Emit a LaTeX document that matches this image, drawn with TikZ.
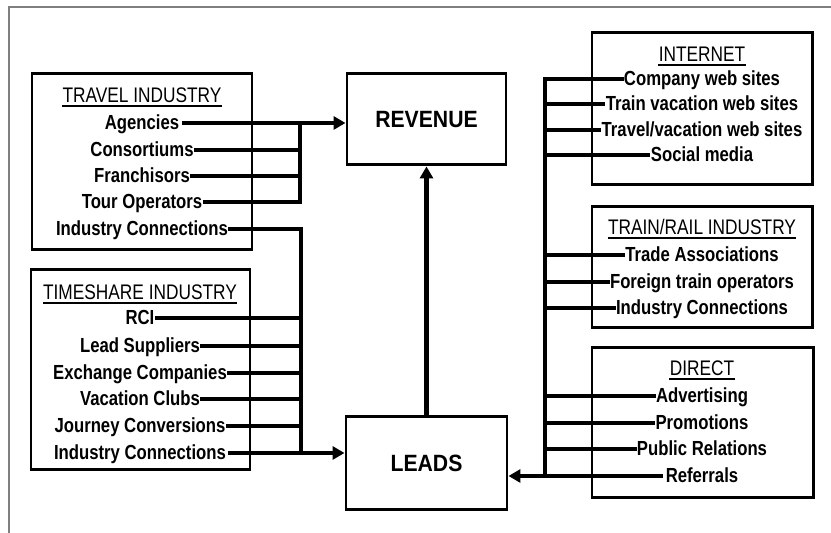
\documentclass[tikz,border=0pt]{standalone}
\usepackage{fontspec}
\setmainfont{Liberation Sans}[FakeStretch=0.82]
\newfontfamily\goalfont{Liberation Sans}[FakeStretch=0.90]
\usepackage{xcolor}
\usepackage{tikz}
\usetikzlibrary{arrows.meta}
\definecolor{FrameGray}{HTML}{7F7F7F}

\begin{document}
\begin{tikzpicture}[x=1cm,y=1cm,
  group/.style={draw,line width=1.7pt,inner sep=0pt},
  goal/.style={draw,line width=1.7pt,inner sep=0pt,font=\goalfont\fontsize{13.4}{15}\selectfont\bfseries},
  head/.style={font=\fontsize{12}{14}\selectfont,inner sep=0pt,text height=8.6pt,text depth=0pt},
  headbar/.style={line width=1.1pt},
  item/.style={font=\fontsize{11.6}{13}\selectfont\bfseries,inner sep=1.2pt,text height=8.3pt,text depth=1pt},
  link/.style={line width=2.3pt,line cap=rect},
  feed/.style={line width=2.3pt,-{Triangle[length=6.8pt,width=7.4pt]}}]
\path[use as bounding box] (0,0) rectangle (16.62,10.66);
\draw[FrameGray,line width=0.9pt] (0.18,0) -- (0.18,10.52) -- (16.62,10.52);

% boxes
\node[group,minimum width=4.40cm,minimum height=3.52cm] (travel) at (2.84,7.42) {};
\node[group,minimum width=4.38cm,minimum height=4.00cm] (timeshare) at (2.81,3.26) {};
\node[goal,minimum width=3.18cm,minimum height=1.82cm] (revenue) at (8.53,8.27) {REVENUE};
\node[goal,minimum width=3.22cm,minimum height=1.86cm] (leads) at (8.53,1.39) {LEADS};
\node[group,minimum width=4.40cm,minimum height=3.04cm] (internet) at (14.04,8.48) {};
\node[group,minimum width=4.40cm,minimum height=2.42cm] (rail) at (14.04,5.31) {};
\node[group,minimum width=4.42cm,minimum height=3.00cm] (direct) at (14.05,2.20) {};

% travel industry
\node[head] (travelT) at (2.84,8.76) {TRAVEL INDUSTRY};
\node[item] (agn) at (2.84,8.20) {Agencies\ };
\node[item] (con) at (2.84,7.66) {Consortiums};
\node[item] (fra) at (2.84,7.14) {Franchisors};
\node[item] (tou) at (2.84,6.62) {Tour Operators};
\node[item] (tic) at (2.84,6.08) {Industry Connections};

% timeshare industry
\node[head] (timeT) at (2.80,4.82) {TIMESHARE INDUSTRY};
\node[item] (rci) at (2.80,4.30) {RCI\ };
\node[item] (lsu) at (2.80,3.74) {Lead Suppliers\ };
\node[item] (exc) at (2.80,3.20) {Exchange Companies};
\node[item] (vcl) at (2.80,2.68) {Vacation Clubs\ };
\node[item] (jco) at (2.80,2.14) {Journey Conversions};
\node[item] (sic) at (2.80,1.60) {Industry Connections};

% internet
\node[head] (netT) at (14.04,9.58) {INTERNET};
\node[item] (cws) at (14.04,9.08) {Company web sites};
\node[item] (tws) at (14.04,8.58) {Train vacation web sites};
\node[item] (vws) at (14.04,8.06) {Travel/vacation web sites};
\node[item] (soc) at (14.04,7.56) {Social media};

% train/rail industry
\node[head] (railT) at (14.04,6.12) {TRAIN/RAIL INDUSTRY};
\node[item] (tra) at (14.04,5.56) {Trade Associations};
\node[item] (fto) at (14.04,5.02) {Foreign train operators};
\node[item] (ric) at (14.04,4.50) {Industry Connections};

% direct
\node[head] (dirT) at (14.04,3.30) {DIRECT};
\node[item] (adv) at (14.04,2.74) {Advertising};
\node[item] (pro) at (14.04,2.20) {Promotions};
\node[item] (pub) at (14.04,1.68) {Public Relations};
\node[item] (ref) at (14.04,1.14) {Referrals};

% underlines of the headings
\foreach \t in {travelT,timeT,netT,railT,dirT}
  \draw[headbar] ([yshift=-1.8pt]\t.south west) -- ([yshift=-1.8pt]\t.south east);

% collecting lines
\coordinate (tbus) at (6.00,0);
\coordinate (sbus) at (6.02,0);
\coordinate (rbus) at (10.90,0);

\draw[feed] (agn.east) -- (agn.east -| revenue.west);
\foreach \n in {con,fra,tou}
  \draw[link] (\n.east) -- (\n.east -| tbus);
\draw[link] (agn.east -| tbus) -- (tou.east -| tbus);

\draw[link] (tic.east) -| (sic.east -| sbus);
\foreach \n in {rci,lsu,exc,vcl,jco}
  \draw[link] (\n.east) -- (\n.east -| sbus);
\draw[feed] (sic.east) -- (sic.east -| leads.west);

\foreach \n in {cws,tws,vws,soc,tra,fto,ric,adv,pro,pub}
  \draw[link] (\n.west) -- (\n.west -| rbus);
\draw[link] (cws.west -| rbus) -- (ref.west -| rbus);
\draw[feed] (ref.west) -- (ref.west -| leads.east);

\draw[feed] (leads.north) -- (revenue.south);
\end{tikzpicture}
\end{document}
